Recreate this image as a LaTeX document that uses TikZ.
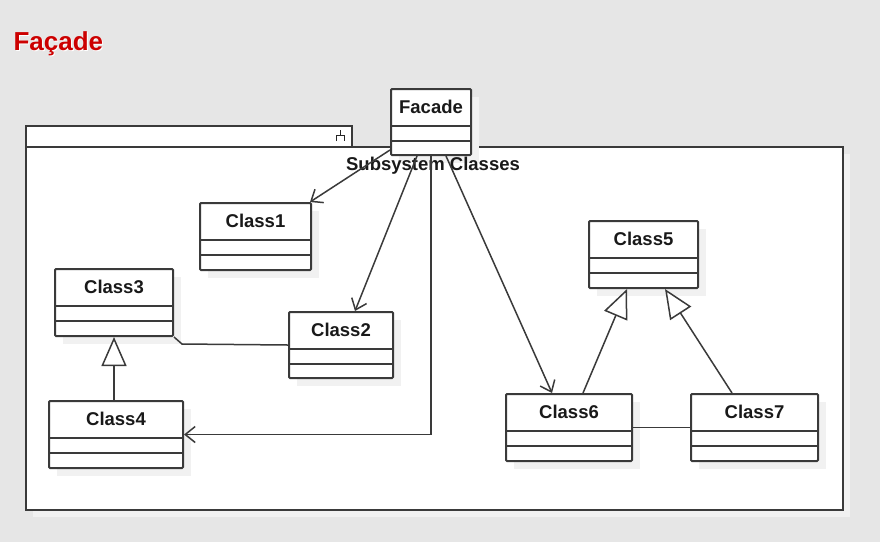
\documentclass[tikz,border=0pt]{standalone}
\usepackage{fontspec}
\setmainfont{Liberation Sans}
\usetikzlibrary{arrows.meta,calc}

\definecolor{bggray}{RGB}{230,230,230}
\definecolor{linegray}{RGB}{58,58,58}
\definecolor{shadegray}{RGB}{241,241,241}
\definecolor{titlered}{RGB}{204,0,0}

\tikzset{
  umlbox/.style={draw=linegray, line width=2pt, fill=white, rounded corners=1pt, inner sep=0pt, anchor=north west},
  umlname/.style={font=\fontsize{18.5}{20}\selectfont\bfseries, text=black!90},
  compart/.style={draw=linegray, line width=2pt},
  assoc/.style={draw=linegray, line width=1.5pt},
  navig/.style={assoc, -{Straight Barb[length=10pt,width=16pt,line width=1.5pt]}},
  inherit/.style={assoc, -{Triangle[open,fill=white,length=29pt,width=25pt,line width=1.5pt]}},
}

% class box: name, x, y (top left), width, height, label
\newcommand{\umlclass}[6]{%
  \fill[shadegray] (#2+9,#3+9) rectangle ++(#4,#5);
  \node[umlbox, minimum width=#4pt, minimum height=#5pt] (#1) at (#2,#3) {};
  \node[umlname] (#1-name) at ($(#1.north)+(0,19)$) {#6};
  \draw[compart] ($(#1.north west)+(0,38)$) -- ($(#1.north east)+(0,38)$);
  \draw[compart] ($(#1.north west)+(0,53)$) -- ($(#1.north east)+(0,53)$);
}

\begin{document}
\begin{tikzpicture}[x=1pt, y=-1pt]
  \useasboundingbox (0,0) rectangle (880,542);
  \fill[bggray] (0,0) rectangle (880,542);

  % title
  \node[anchor=base west, font=\fontsize{26}{28}\selectfont\bfseries, text=white] at (11,51) {Façade};
  \node[anchor=base west, font=\fontsize{26}{28}\selectfont\bfseries, text=titlered] (title) at (10,50) {Façade};

  % package
  \fill[shadegray] (33,154) rectangle (850,517);
  \node[umlbox, rounded corners=0pt, minimum width=326pt, minimum height=21pt] (pkgtab) at (25,125) {};
  \node[umlbox, rounded corners=0pt, minimum width=817pt, minimum height=363pt] (pkg) at (25,146) {};
  \draw[line width=1.6pt, black!85] (336.5,141) -- (336.5,135.5) -- (344.5,135.5) -- (344.5,141) (340.5,135.5) -- (340.5,130);

  % classes
  \umlclass{facade}{390}{88}{80}{66}{Facade}
  \umlclass{class1}{199}{202}{111}{67}{Class1}
  \umlclass{class2}{288}{311}{104}{66}{Class2}
  \umlclass{class3}{54}{268}{118}{67}{Class3}
  \umlclass{class4}{48}{400}{134}{67}{Class4}
  \umlclass{class5}{588}{220}{109}{67}{Class5}
  \umlclass{class6}{505}{393}{126}{67}{Class6}
  \umlclass{class7}{690}{393}{127}{67}{Class7}

  \node[umlname] (pkg-name) at (433,166) {Subsystem Classes};

  % facade uses
  \draw[navig] ($(facade.south west)+(0,-6)$) -- ($(class1.north east)+(-2,0)$);
  \draw[navig] ($(facade.south west)+(27,0)$) -- ($(class2.north west)+(67,0)$);
  \draw[navig] ($(facade.south west)+(41,0)$) |- (class4.east);
  \draw[navig] ($(facade.south west)+(56,0)$) -- ($(class6.north west)+(47,0)$);

  % associations
  \draw[assoc] (class3.south east) -- ++(8,7) -- (class2.west);
  \draw[assoc] (class6.east) -- (class7.west);

  % generalizations
  \draw[inherit] ($(class4.north west)+(66,0)$) -- ($(class3.south west)+(60,0)$);
  \draw[inherit] ($(class6.north west)+(78,0)$) -- ($(class5.south west)+(39,0)$);
  \draw[inherit] ($(class7.north west)+(42,0)$) -- ($(class5.south west)+(77,0)$);
\end{tikzpicture}
\end{document}
